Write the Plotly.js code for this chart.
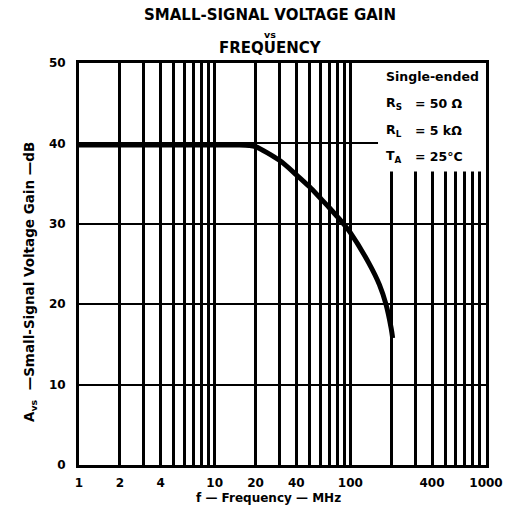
<!DOCTYPE html>
<html>
<head>
<meta charset="utf-8">
<script src="https://cdn.plot.ly/plotly-3.0.1.min.js"></script>
<style>html,body{margin:0;padding:0;background:#fff;}#chart{width:515px;height:513px;}</style>
</head>
<body>
<div id="chart"></div>
<script>
// Data
const freqMHz = [1, 2, 5, 10, 15, 18, 20, 30, 40, 50, 60, 70, 80, 90, 100, 136, 164, 183, 200, 205];
const gainDB  = [39.8, 39.8, 39.8, 39.8, 39.8, 39.75, 39.6, 37.9, 36.1, 34.6, 33.2, 32.0, 30.9, 29.9, 28.9, 25.2, 22.4, 20.0, 17.0, 15.8];

const xMinorGridVals = [3,5,6,7,8,9,30,50,60,70,80,90,200,300,500,600,700,800,900];
const xLabelVals = [1,2,4,10,20,40,100,400,1000];
const yTickVals = [0,10,20,30,40,50];

const conditionLabels = ["R<sub>S</sub>", "R<sub>L</sub>", "T<sub>A</sub>"];
const conditionValues = ["= 50 Ω", "= 5 kΩ", "= 25°C"];

const FONT = "DejaVu Sans, sans-serif";
const W = 515, H = 513;
const L = 79, R = 29, T = 63, B = 48;
const pw = W - L - R, ph = H - T - B;
const px = x => (x - L) / pw;
const py = y => (H - B - y) / ph;

const trace = {
  x: freqMHz, y: gainDB, type: "scatter", mode: "lines",
  line: {color: "#000", width: 5, shape: "spline", smoothing: 0.8},
  hoverinfo: "skip", showlegend: false
};

function ann(text, x, y, size, extra) {
  return Object.assign({text: "<b>" + text + "</b>", x: px(x), y: py(y), xref: "paper", yref: "paper",
    xanchor: "center", yanchor: "middle", showarrow: false,
    font: {family: FONT, size: size, color: "#000"}}, extra || {});
}

const annotations = [
  ann("SMALL-SIGNAL VOLTAGE GAIN", 270, 15, 15),
  ann("vs", 270, 34, 9.5),
  ann("FREQUENCY", 270, 48, 15),
  ann("f — Frequency — MHz", 268, 498, 12),
  ann("A<sub>vs</sub>  —Small-Signal Voltage Gain —dB", 30, 282, 13.5, {textangle: -90}),
  ann("Single-ended", 384, 76, 12.5, {xanchor: "left"})
];
const rowsY = [103, 130, 156];
conditionLabels.forEach((lab, i) => {
  annotations.push(ann(lab, 384, rowsY[i], 12.5, {xanchor: "left"}));
  annotations.push(ann(conditionValues[i], 413, rowsY[i], 12.5, {xanchor: "left"}));
});

const layout = {
  width: W, height: H,
  margin: {l: L, r: R, t: T, b: B, pad: 0},
  paper_bgcolor: "#fff", plot_bgcolor: "#fff",
  showlegend: false,
  xaxis: {
    type: "log", range: [0, 3],
    tickmode: "array", tickvals: xLabelVals, ticktext: xLabelVals.map(String), ticks: "",
    showgrid: true, gridcolor: "#000", gridwidth: 3,
    minor: {tickmode: "array", tickvals: xMinorGridVals, showgrid: true, gridcolor: "#000", gridwidth: 3, ticks: ""},
    showline: true, mirror: true, linecolor: "#000", linewidth: 3,
    zeroline: false,
    tickfont: {family: FONT, size: 12, color: "#000", weight: "bold"},
    ticklabelstandoff: 5,
    automargin: false
  },
  yaxis: {
    range: [0, 50], tickmode: "array", tickvals: yTickVals, ticks: "",
    showgrid: true, gridcolor: "#000", gridwidth: 2,
    showline: true, mirror: true, linecolor: "#000", linewidth: 3,
    zeroline: false,
    tickfont: {family: FONT, size: 12, color: "#000", weight: "bold"},
    ticklabelstandoff: 8,
    automargin: false
  },
  shapes: [
    {type: "rect", xref: "x", yref: "y", x0: 108, x1: 1000, y0: 40.6, y1: 50, fillcolor: "#fff", line: {width: 0}, layer: "between"},
    {type: "rect", xref: "x", yref: "y", x0: 160, x1: 1000, y0: 36.5, y1: 50, fillcolor: "#fff", line: {width: 0}, layer: "between"}
  ],
  annotations: annotations
};

Plotly.newPlot("chart", [trace], layout, {displayModeBar: false, staticPlot: true});
</script>
</body>
</html>
